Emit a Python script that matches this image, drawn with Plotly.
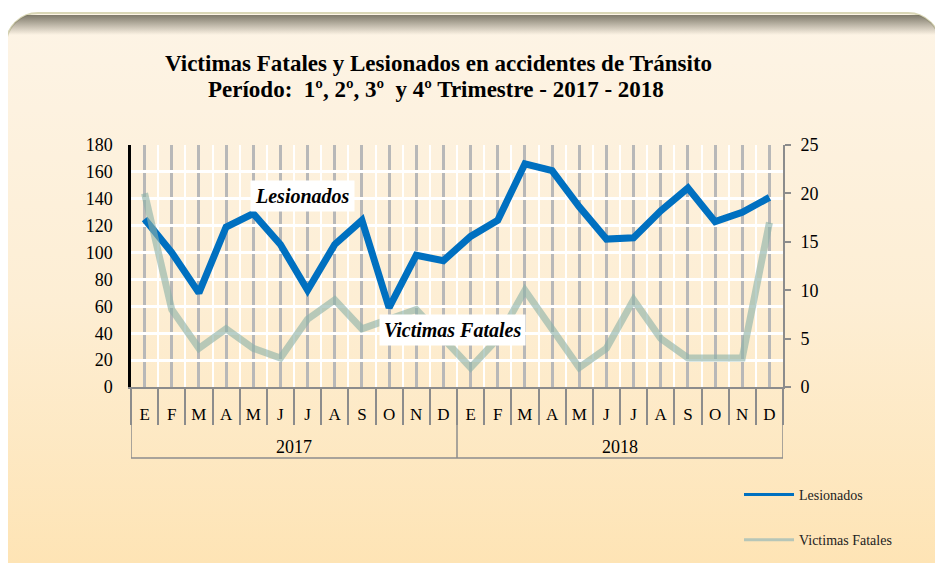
import base64
import plotly.graph_objects as go

# ---------------- data ----------------
months = ["E", "F", "M", "A", "M", "J", "J", "A", "S", "O", "N", "D"] * 2
years = ["2017", "2018"]
lesionados = [125, 100, 70, 119, 129, 106, 72, 106, 124, 59, 98, 94,
              112, 124, 166, 161, 134, 110, 111, 131, 148, 123, 130, 141]
victimas = [20, 8, 4, 6, 4, 3, 7, 9, 6, 7, 8, 5,
            2, 5, 10, 6, 2, 4, 9, 5, 3, 3, 3, 17]
left_ticks = list(range(0, 181, 20))
right_ticks = list(range(0, 26, 5))

idx = list(range(len(months)))
FONT = "Liberation Serif"
BLUE = "#0070C0"
GREEN = "rgba(140,178,168,0.62)"

# page is offset by the default 8px body margin; work in figure pixels
OFF = 8
W, H = 943, 563
L, R, T, B = 131 - OFF, 783 - OFF, 145 - OFF, 387 - OFF
pw, ph = R - L, B - T


def px(xp):  # page x -> paper x
    return (xp - OFF - L) / pw


def py(yp):  # page y -> paper y
    return (B - (yp - OFF)) / ph


# ---------------- background panel (svg) ----------------
svg = '''<svg xmlns="http://www.w3.org/2000/svg" width="943" height="563" viewBox="0 0 943 563">
<defs>
<linearGradient id="g" x1="0" y1="0" x2="0" y2="1">
<stop offset="0" stop-color="#FDF4E6"/>
<stop offset="0.5" stop-color="#FDEED4"/>
<stop offset="1" stop-color="#FEE3B2"/>
</linearGradient>
<linearGradient id="s" x1="0" y1="0" x2="0" y2="1">
<stop offset="0" stop-color="#5f5b4c" stop-opacity="0.8"/>
<stop offset="1" stop-color="#5f5b4c" stop-opacity="0"/>
</linearGradient>
<clipPath id="c"><rect x="-2" y="5" width="934" height="575" rx="32" ry="32"/></clipPath>
</defs>
<rect x="-2" y="5" width="934" height="575" rx="32" ry="32" fill="url(#g)" stroke="#d9d6b6" stroke-width="2"/>
<rect x="-2" y="7" width="934" height="20" fill="url(#s)" clip-path="url(#c)"/>
</svg>'''
svg_uri = "data:image/svg+xml;base64," + base64.b64encode(svg.encode()).decode()

fig = go.Figure()

fig.add_trace(go.Scatter(
    x=idx, y=victimas, yaxis="y2", mode="lines",
    line=dict(color=GREEN, width=7), showlegend=False, hoverinfo="y"))
fig.add_trace(go.Scatter(
    x=idx, y=lesionados, mode="lines",
    line=dict(color=BLUE, width=7), showlegend=False, hoverinfo="y"))

# legend entries with thin sample lines
fig.add_trace(go.Scatter(x=[None], y=[None], mode="lines", name="Lesionados",
                         line=dict(color=BLUE, width=3), legendgroup="a"))
fig.add_trace(go.Scatter(x=[None], y=[None], mode="lines", name="Victimas Fatales",
                         line=dict(color="#b6c6b8", width=3), legendgroup="b"))

shapes = []
ybot = py(458)
for xv in [-0.5, 11.5, 23.5]:
    shapes.append(dict(type="line", xref="x", yref="paper", x0=xv, x1=xv, y0=0, y1=ybot,
                       line=dict(color="#8c8c8c", width=1.5)))
shapes.append(dict(type="line", xref="x", yref="paper", x0=-0.5, x1=23.5, y0=ybot, y1=ybot,
                   line=dict(color="#8c8c8c", width=1.5)))

annotations = [
    dict(x=5.5, y=py(447), xref="x", yref="paper", text=years[0], showarrow=False,
         yanchor="middle", font=dict(family=FONT, size=18, color="#000")),
    dict(x=17.5, y=py(447), xref="x", yref="paper", text=years[1], showarrow=False,
         yanchor="middle", font=dict(family=FONT, size=18, color="#000")),
    dict(x=5.8, y=142, xref="x", yref="y", text="<b><i>Lesionados</i></b>", showarrow=False,
         bgcolor="white", borderpad=4, font=dict(family=FONT, size=20, color="#000")),
    dict(x=11.35, y=42.4, xref="x", yref="y", text="<b><i>Victimas Fatales</i></b>", showarrow=False,
         bgcolor="white", borderpad=4, font=dict(family=FONT, size=20, color="#000")),
    dict(x=px(438), y=py(63), xref="paper", yref="paper", showarrow=False,
         xanchor="center", yanchor="middle",
         text="<b>Victimas Fatales y Lesionados en accidentes de Tránsito</b>",
         font=dict(family=FONT, size=23, color="#000")),
    dict(x=px(436), y=py(89), xref="paper", yref="paper", showarrow=False,
         xanchor="center", yanchor="middle",
         text="<b>Período:  1º, 2º, 3º  y 4º Trimestre - 2017 - 2018</b>",
         font=dict(family=FONT, size=23, color="#000")),
]

fig.update_layout(
    width=W, height=H,
    margin=dict(l=L, r=W - R, t=T, b=H - B, pad=0),
    paper_bgcolor="white", plot_bgcolor="rgba(0,0,0,0)",
    font=dict(family=FONT, color="#000"),
    xaxis=dict(range=[-0.5, 23.5], tickmode="array", tickvals=idx, ticktext=months,
               ticks="", showgrid=True, gridcolor="#b8b8b8", gridwidth=3,
               showline=True, linecolor="#8c8c8c", linewidth=2,
               tickfont=dict(family=FONT, size=17, color="#000"),
               ticklabelstandoff=11, zeroline=False,
               minor=dict(tick0=-0.5, dtick=1, ticks="outside", ticklen=36,
                          tickcolor="#8c8c8c", tickwidth=1.5,
                          showgrid=True, gridcolor="white", gridwidth=2)),
    yaxis=dict(range=[0, 180], tickmode="array", tickvals=left_ticks,
               showgrid=True, gridcolor="white", gridwidth=2.5, zeroline=False,
               showline=True, linecolor="black", linewidth=2.5, ticks="",
               tickfont=dict(family=FONT, size=18, color="#000"), ticklabelstandoff=12),
    yaxis2=dict(range=[0, 25], tickmode="array", tickvals=right_ticks, overlaying="y",
                side="right", showgrid=False, zeroline=False,
                showline=True, linecolor="#8c8c8c", linewidth=2,
                ticks="outside", ticklen=6, tickcolor="#8c8c8c", tickwidth=2,
                tickfont=dict(family=FONT, size=18, color="#000"), ticklabelstandoff=6),
    legend=dict(x=px(739), y=py(479), xanchor="left", yanchor="top",
                bgcolor="rgba(0,0,0,0)", tracegroupgap=24, itemwidth=50,
                font=dict(family=FONT, size=14, color="#222")),
    shapes=shapes,
    annotations=annotations,
    images=[dict(source=svg_uri, xref="paper", yref="paper",
                 x=-L / pw, y=B / ph, sizex=W / pw, sizey=H / ph,
                 xanchor="left", yanchor="top", sizing="stretch", layer="below")],
)

fig.write_html("out.html")
